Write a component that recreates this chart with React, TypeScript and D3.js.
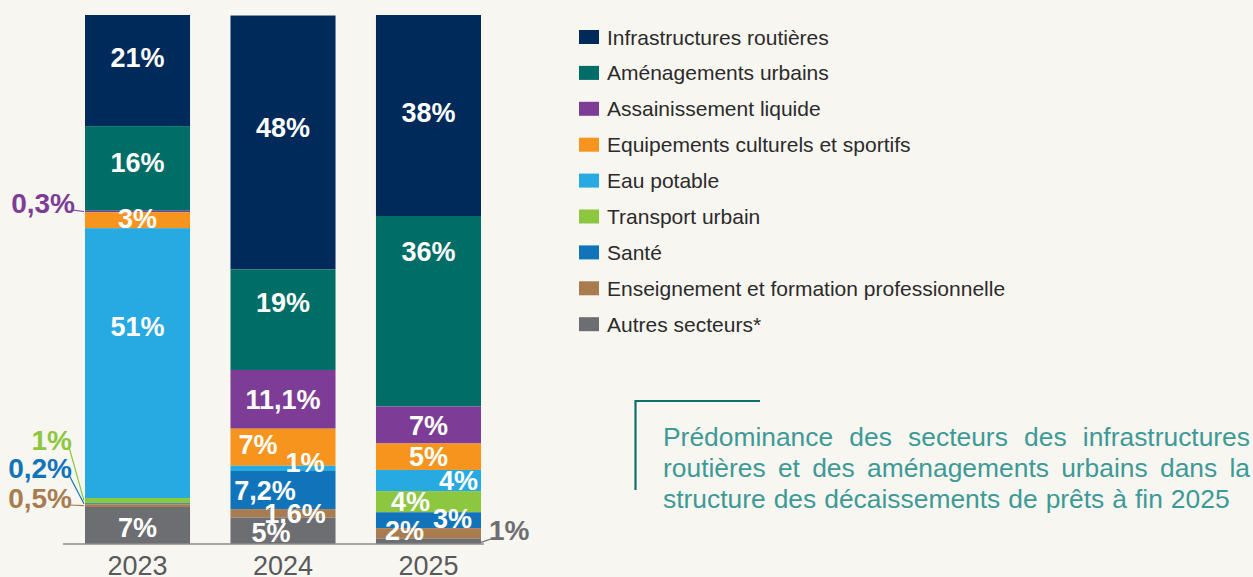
import React, { useEffect, useRef } from "react";
import * as d3 from "d3";

const years = ["2023", "2024", "2025"];
const sectors = [
  "Infrastructures routières",
  "Aménagements urbains",
  "Assainissement liquide",
  "Equipements culturels et sportifs",
  "Eau potable",
  "Transport urbain",
  "Santé",
  "Enseignement et formation professionnelle",
  "Autres secteurs*",
];
const colors = ["#002a5a", "#006d66", "#7d3d96", "#f7941d", "#27a9e1", "#8dc63f", "#1174bb", "#a97c50", "#6d6e71"];

// share (%) per sector, one array per year, in sector order
const values2023 = [21, 16, 0.3, 3, 51, 1, 0.2, 0.5, 7];
const values2024 = [48, 19, 11.1, 7, 1, 0, 7.2, 1.6, 5];
const values2025 = [38, 36, 7, 5, 4, 4, 3, 2, 1];
const labels2023 = ["21%", "16%", "0,3%", "3%", "51%", "1%", "0,2%", "0,5%", "7%"];
const labels2024 = ["48%", "19%", "11,1%", "7%", "1%", "", "7,2%", "1,6%", "5%"];
const labels2025 = ["38%", "36%", "7%", "5%", "4%", "4%", "3%", "2%", "1%"];

const noteLines = [
  "Prédominance des secteurs des infrastructures",
  "routières et des aménagements urbains dans la",
  "structure des décaissements de prêts à fin 2025",
];

// label nudges inside segments: [yearIndex, sectorIndex, dx, dy]
const nudges = [
  [0, 0, 0, -13], [0, 1, 0, -6], [0, 3, 0, -2], [0, 4, 0, -37], [0, 8, 0, 2],
  [1, 0, 0, -15], [1, 1, 0, -17], [1, 2, 0, 0], [1, 3, -25, -3], [1, 4, 22, -6], [1, 6, -18, 0], [1, 7, 12, 0], [1, 8, -12, 2],
  [2, 0, 0, -3], [2, 1, 0, -60], [2, 2, 0, 0], [2, 3, 0, 0], [2, 4, 30, 0], [2, 5, -18, 0], [2, 6, 24, -2], [2, 7, -24, -3],
];
// labels drawn outside bars with a leader: [yearIndex, sectorIndex, labelX, labelY, side]
const outside = [
  [0, 2, 75, 203, "left"],
  [0, 5, 72, 440, "left"],
  [0, 6, 72, 468, "left"],
  [0, 7, 72, 498, "left"],
  [2, 8, 489, 530, "right"],
];

export default function App() {
  const ref = useRef<SVGSVGElement>(null);

  useEffect(() => {
    const svg = d3.select(ref.current);
    svg.selectAll("*").remove();
    const W = 1253, H = 577;
    const font = "'Liberation Sans', Arial, Helvetica, sans-serif";

    svg.append("rect").attr("width", W).attr("height", H).attr("fill", "#f8f6f1");

    const allValues = [values2023, values2024, values2025];
    const allLabels = [labels2023, labels2024, labels2025];

    const x = d3.scaleBand().domain(years).range([85, 481]).paddingInner(0.278).paddingOuter(0);
    const y = d3.scaleLinear().domain([0, 100]).range([544, 15]);

    const rows = years.map((yr, i) => {
      const r: any = { year: yr };
      sectors.forEach((s, j) => (r[s] = allValues[i][j]));
      return r;
    });
    const stacked = d3.stack().keys(sectors).order(d3.stackOrderReverse)(rows);

    const g = svg.append("g");
    stacked.forEach((layer) => {
      g.selectAll(null)
        .data(layer)
        .join("rect")
        .attr("x", (d: any) => x(d.data.year)!)
        .attr("width", x.bandwidth())
        .attr("y", (d) => y(d[1]))
        .attr("height", (d) => y(d[0]) - y(d[1]))
        .attr("fill", colors[sectors.indexOf(layer.key)]);
    });

    // baseline
    svg.append("line").attr("x1", 63).attr("x2", 484).attr("y1", 544).attr("y2", 544)
      .attr("stroke", "#8c8c8c").attr("stroke-width", 1.5);

    const seg = (yi: number, si: number) => {
      const layer = stacked.find((l) => l.key === sectors[si])!;
      const d = layer[yi];
      return { top: y(d[1]), bottom: y(d[0]), mid: (y(d[0]) + y(d[1])) / 2 };
    };

    // inside labels
    nudges.forEach(([yi, si, dx, dy]) => {
      const s = seg(yi, si);
      g.append("text")
        .attr("x", x(years[yi])! + x.bandwidth() / 2 + dx)
        .attr("y", s.mid + dy)
        .attr("dy", "0.36em")
        .attr("text-anchor", "middle")
        .attr("fill", "#fff")
        .attr("font-family", font)
        .attr("font-weight", "bold")
        .attr("font-size", 27)
        .text(allLabels[yi][si]);
    });

    // outside labels with leaders
    outside.forEach(([yi, si, lx, ly, side]: any) => {
      const s = seg(yi, si);
      const left = side === "left";
      const barEdge = left ? x(years[yi])! : x(years[yi])! + x.bandwidth();
      const col = colors[si];
      svg.append("path")
        .attr("d", left
          ? `M${lx - 3},${ly + 7}L${barEdge - 1},${s.mid}`
          : `M${barEdge},${s.mid + 1}L${lx + 2},${ly + 9}`)
        .attr("fill", "none").attr("stroke", col).attr("stroke-width", 1.2);
      svg.append("text")
        .attr("x", lx).attr("y", ly).attr("dy", "0.36em")
        .attr("text-anchor", left ? "end" : "start")
        .attr("fill", col)
        .attr("font-family", font).attr("font-weight", "bold").attr("font-size", 28)
        .text(allLabels[yi][si]);
    });

    // year axis labels
    svg.selectAll(null).data(years).join("text")
      .attr("x", (d) => x(d)! + x.bandwidth() / 2)
      .attr("y", 575)
      .attr("text-anchor", "middle")
      .attr("fill", "#58595b")
      .attr("font-family", font)
      .attr("font-size", 27)
      .text((d) => d);

    // legend
    const legend = svg.append("g").attr("transform", "translate(579,37)");
    sectors.forEach((s, i) => {
      const row = legend.append("g").attr("transform", `translate(0,${i * 35.9})`);
      row.append("rect").attr("y", -7).attr("width", 20).attr("height", 14).attr("fill", colors[i]);
      row.append("text").attr("x", 28).attr("dy", "0.36em")
        .attr("fill", "#2b2b2b").attr("font-family", font).attr("font-size", 21)
        .text(s);
    });

    // note box
    svg.append("path").attr("d", "M760,401H635.5V490").attr("fill", "none")
      .attr("stroke", "#0f6f69").attr("stroke-width", 2.2);
    const left = 663, right = 1250;
    noteLines.forEach((line, li) => {
      const ty = 446 + li * 31;
      const words = line.split(" ");
      const nodes = words.map((w) =>
        svg.append("text").attr("y", ty).attr("fill", "#3d9a96")
          .attr("font-family", font).attr("font-size", 26.4).text(w)
      );
      const widths = nodes.map((n) => (n.node() as SVGTextElement).getComputedTextLength());
      const total = d3.sum(widths);
      const last = li === noteLines.length - 1;
      const gap = last ? 8 : (right - left - total) / (words.length - 1);
      let cx = left;
      nodes.forEach((n, k) => {
        n.attr("x", cx);
        cx += widths[k] + gap;
      });
    });
  }, []);

  return (
    <svg ref={ref} width={1253} height={577}
      style={{ position: "absolute", left: 0, top: 0, display: "block" }} />
  );
}
